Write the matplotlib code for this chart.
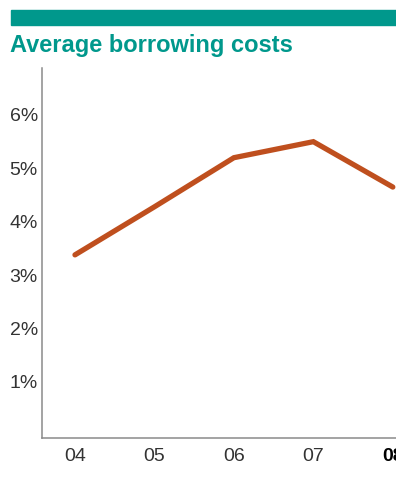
import matplotlib
matplotlib.use("Agg")
import matplotlib.pyplot as plt
from matplotlib.patches import Rectangle

years = [2004, 2005, 2006, 2007, 2008]
year_labels = ["04", "05", "06", "07", "08"]
rates = [3.38, 4.28, 5.2, 5.5, 4.65]
ytick_vals = [1, 2, 3, 4, 5, 6]
ytick_labels = ["1%", "2%", "3%", "4%", "5%", "6%"]

W, H = 396, 484
fig = plt.figure(figsize=(W / 100, H / 100), dpi=100)
plt.rcParams['font.family'] = ['Liberation Sans', 'DejaVu Sans']

teal = "#00988c"
fig.patches.append(Rectangle((11 / W, 1 - 25 / H), (W - 11) / W, 15 / H,
                             transform=fig.transFigure, color=teal, zorder=5))
fig.text(10 / W, 1 - 52 / H, "Average borrowing costs", color=teal,
         fontsize=17, fontweight="bold", ha="left", va="baseline")

ax = fig.add_axes([42 / W, 1 - 438 / H, 1 - 42 / W, (438 - 68) / H])
ax.plot(years, rates, color="#bf4f1e", lw=3.8, solid_capstyle="round",
        solid_joinstyle="miter", clip_on=False)
ax.set_xlim(2003.585, 2008.04)
ax.set_ylim(-0.05, 6.88)
ax.set_xticks(years)
ax.set_xticklabels(year_labels)
ax.set_yticks(ytick_vals)
ax.set_yticklabels(ytick_labels)
ax.tick_params(length=0, labelsize=14, labelcolor="#333333")
ax.tick_params(axis="y", pad=3)
ax.tick_params(axis="x", pad=7)
ax.get_xticklabels()[-1].set_fontweight("bold")
ax.get_xticklabels()[-1].set_color("#000000")
for s in ["top", "right"]:
    ax.spines[s].set_visible(False)
for s in ["left", "bottom"]:
    ax.spines[s].set_color("#8a8a8a")
    ax.spines[s].set_linewidth(1.1)

fig.savefig("out.png", dpi=100)
